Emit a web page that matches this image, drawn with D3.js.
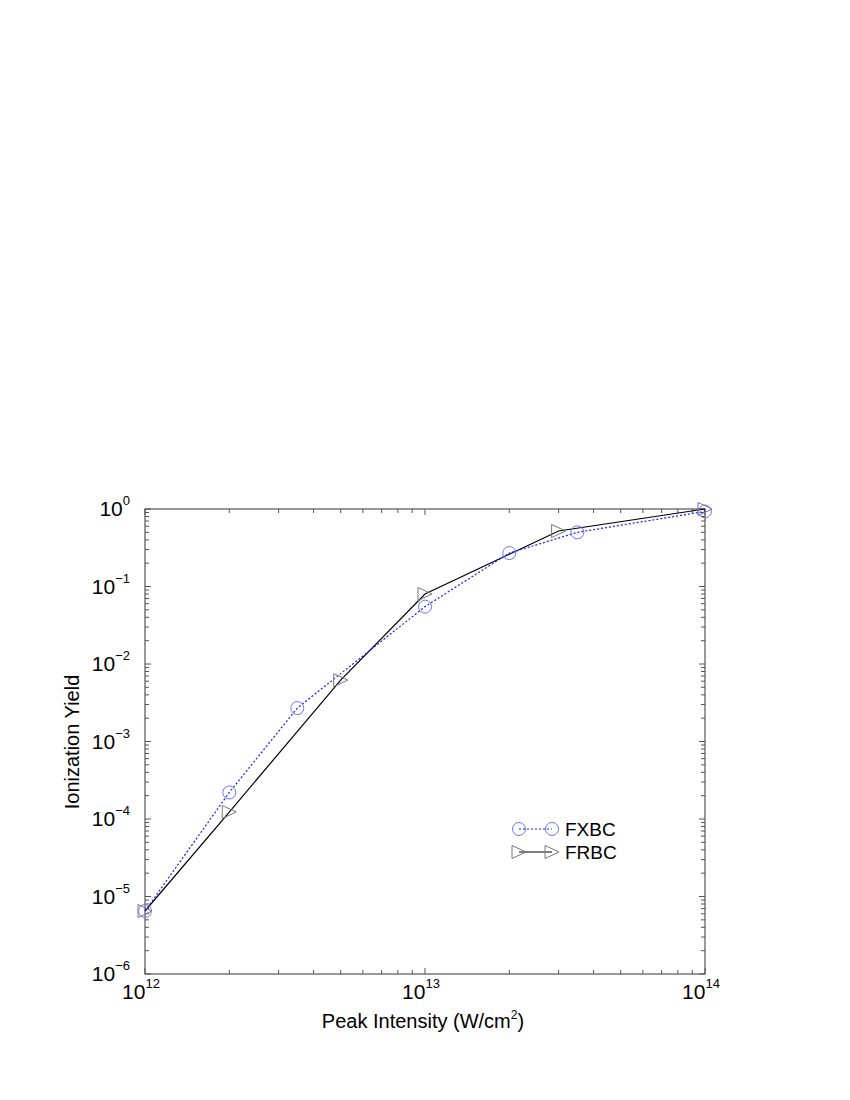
<!DOCTYPE html>
<html><head><meta charset="utf-8">
<script src="https://cdn.jsdelivr.net/npm/d3@7"></script>
<style>body{margin:0;background:#fff}svg{display:block}text{font-family:"Liberation Sans",Arial,Helvetica,sans-serif}</style>
</head><body>
<svg id="c" width="850" height="1100"></svg>
<script>
const fxbcX = [1e12, 2e12, 3.5e12, 1e13, 2e13, 3.5e13, 1e14];
const fxbcY = [6.5e-6, 2.2e-4, 2.7e-3, 0.055, 0.27, 0.5, 0.93];
const frbcX = [1e12, 2e12, 5e12, 1e13, 3e13, 1e14];
const frbcY = [6.5e-6, 1.23e-4, 6.2e-3, 0.08, 0.52, 1.0];
const xTickExp = [12, 13, 14];
const yTickExp = [0, -1, -2, -3, -4, -5, -6];
const seriesNames = ["FXBC", "FRBC"];

const svg = d3.select("#c");
const L = 145, R = 705, T = 509, B = 974;
const x = d3.scaleLog().domain([1e12, 1e14]).range([L, R]);
const y = d3.scaleLog().domain([1e-6, 1]).range([B, T]);
const axisCol = "#555";

// frame
svg.append("rect").attr("x", L).attr("y", T).attr("width", R - L).attr("height", B - T)
  .attr("fill", "none").attr("stroke", axisCol).attr("stroke-width", 1.2);

// ticks (inward on all sides)
const xt = [];
for (let e = 12; e < 14; e++) for (let m = 1; m < 10; m++) xt.push(m * Math.pow(10, e));
xt.push(1e14);
const yt = [];
for (let e = -6; e < 0; e++) for (let m = 1; m < 10; m++) yt.push(m * Math.pow(10, e));
yt.push(1);
const isMajor = v => Math.abs(Math.log10(v) - Math.round(Math.log10(v))) < 1e-9;
const tg = svg.append("g").attr("stroke", axisCol).attr("stroke-width", 1);
xt.forEach(v => {
  const len = isMajor(v) ? 6 : 4;
  tg.append("line").attr("x1", x(v)).attr("x2", x(v)).attr("y1", B).attr("y2", B - len);
  tg.append("line").attr("x1", x(v)).attr("x2", x(v)).attr("y1", T).attr("y2", T + len);
});
yt.forEach(v => {
  const len = isMajor(v) ? 6 : 4;
  tg.append("line").attr("y1", y(v)).attr("y2", y(v)).attr("x1", L).attr("x2", L + len);
  tg.append("line").attr("y1", y(v)).attr("y2", y(v)).attr("x1", R).attr("x2", R - len);
});

// tick labels
xTickExp.forEach(e => {
  const t = svg.append("text").attr("x", x(Math.pow(10, e)) - 4).attr("y", 999)
    .attr("text-anchor", "middle").attr("font-size", 21).attr("fill", "#000");
  t.append("tspan").text("10");
  t.append("tspan").attr("dy", -11).attr("font-size", 13).text(String(e));
});
yTickExp.forEach(e => {
  const t = svg.append("text").attr("x", 130).attr("y", y(Math.pow(10, e)) + 7)
    .attr("text-anchor", "end").attr("font-size", 21).attr("fill", "#000");
  t.append("tspan").text("10");
  t.append("tspan").attr("dy", -11).attr("font-size", 13).text(e === 0 ? "0" : "\u2212" + (-e));
});

// axis titles
const xl = svg.append("text").attr("x", 423).attr("y", 1028).attr("text-anchor", "middle")
  .attr("font-size", 20).attr("fill", "#000");
xl.append("tspan").text("Peak Intensity (W/cm");
xl.append("tspan").attr("dy", -9).attr("font-size", 12).text("2");
xl.append("tspan").attr("dy", 9).text(")");
svg.append("text").attr("transform", "translate(79,742) rotate(-90)").attr("text-anchor", "middle")
  .attr("font-size", 20).attr("fill", "#000").text("Ionization Yield");

// lines
const line = d3.line().x(d => x(d[0])).y(d => y(d[1]));
const fx = fxbcX.map((v, i) => [v, fxbcY[i]]);
const fr = frbcX.map((v, i) => [v, frbcY[i]]);
svg.append("path").attr("d", line(fr)).attr("fill", "none").attr("stroke", "#000").attr("stroke-width", 1.2);
svg.append("path").attr("d", line(fx)).attr("fill", "none").attr("stroke", "#1a1aff").attr("stroke-width", 1.2)
  .attr("stroke-dasharray", "2,2");

const tri = (cx, cy) => `M${cx - 7},${cy - 6.5}L${cx + 7},${cy}L${cx - 7},${cy + 6.5}Z`;
svg.append("g").selectAll("path").data(fr).join("path")
  .attr("d", d => tri(x(d[0]), y(d[1]))).attr("fill", "none").attr("stroke", "#777").attr("stroke-width", 1);
svg.append("g").selectAll("circle").data(fx).join("circle")
  .attr("cx", d => x(d[0])).attr("cy", d => y(d[1])).attr("r", 6.5)
  .attr("fill", "none").attr("stroke", "#7070ff").attr("stroke-width", 1);

// legend
const lg = svg.append("g");
lg.append("line").attr("x1", 519).attr("x2", 552).attr("y1", 829).attr("y2", 829)
  .attr("stroke", "#1a1aff").attr("stroke-width", 1.2).attr("stroke-dasharray", "2,2");
[519, 552].forEach(cx => lg.append("circle").attr("cx", cx).attr("cy", 829).attr("r", 6.5)
  .attr("fill", "none").attr("stroke", "#7070ff"));
lg.append("line").attr("x1", 519).attr("x2", 552).attr("y1", 852).attr("y2", 852)
  .attr("stroke", "#000").attr("stroke-width", 1.2);
[519, 552].forEach(cx => lg.append("path").attr("d", tri(cx, 852)).attr("fill", "none").attr("stroke", "#777"));
lg.append("text").attr("x", 565).attr("y", 836).attr("font-size", 19).attr("fill", "#000").text(seriesNames[0]);
lg.append("text").attr("x", 565).attr("y", 859).attr("font-size", 19).attr("fill", "#000").text(seriesNames[1]);
</script>
</body></html>
